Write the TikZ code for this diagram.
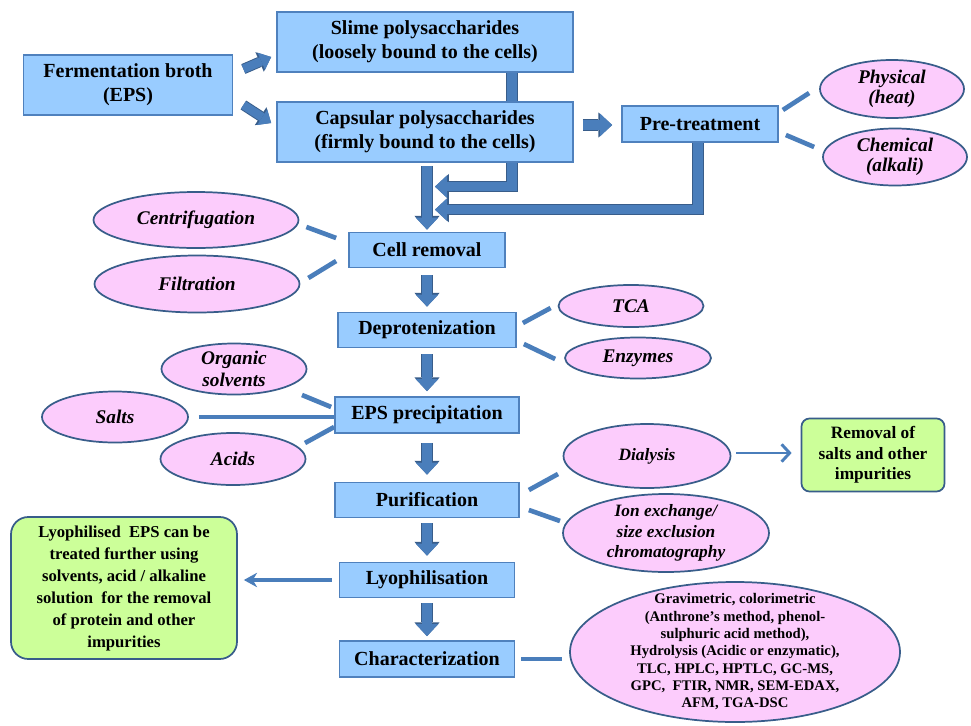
\documentclass[tikz,border=0pt]{standalone}
\usepackage{fontspec}
\setmainfont{Liberation Serif}
\usetikzlibrary{shapes.geometric,arrows.meta,calc,backgrounds}
\definecolor{boxfill}{RGB}{153,204,255}
\definecolor{boxdraw}{RGB}{79,129,189}
\definecolor{arrowc}{RGB}{74,126,187}
\definecolor{arrowdark}{RGB}{56,93,138}
\definecolor{ellfill}{RGB}{252,204,252}
\definecolor{elldraw}{RGB}{56,93,138}
\definecolor{greenfill}{RGB}{204,255,153}
\begin{document}
\begin{tikzpicture}[x=0.75pt,y=-0.75pt,
  bx/.style 2 args={minimum width=#1*0.75pt, minimum height=#2*0.75pt},
  box/.style={draw=boxdraw, line width=1.3pt, fill=boxfill, inner sep=0pt, align=center,
    font=\fontsize{15}{18}\selectfont\bfseries},
  ell/.style={ellipse, draw=elldraw, line width=1.3pt, fill=ellfill, inner sep=0pt},
  etxt/.style={align=center, inner sep=0pt, font=\fontsize{14.5}{16}\selectfont\bfseries\itshape},
  gbox/.style={draw=elldraw, line width=1.3pt, fill=greenfill, inner sep=0pt, align=center},
  blk/.style={draw=arrowc, line width=7pt, line join=miter,
    -{Triangle[length=9pt,width=17pt,line width=0pt]},
    preaction={draw=arrowdark, line width=8.4pt, line join=miter,
      -{Triangle[length=10.4pt,width=19pt,line width=0pt]}}},
  blks/.style={draw=arrowc, line width=6.5pt, -{Triangle[length=8pt,width=14pt,line width=0pt]},
    preaction={draw=arrowdark, line width=7.9pt,
      -{Triangle[length=9.4pt,width=16pt,line width=0pt]}}},
  ln/.style={draw=arrowc, line width=3.5pt},
  thinarr/.style={draw=arrowc, line width=2.2pt, -{Straight Barb[length=6pt,width=13pt]}},
  lyoarr/.style={draw=arrowc, line width=2.5pt, -{Stealth[length=10pt,width=11pt,line width=0pt]}}
]
\useasboundingbox (0,0) rectangle (971,725);

% top row
\node[box, bx={209}{60}] (ferm) at (128,85) {Fermentation broth\\(EPS)};
\node[box, bx={296}{60}] (slime) at (425,42) {Slime polysaccharides\\(loosely bound to the cells)};
\node[box, bx={296}{60}] (caps) at (425,132) {Capsular polysaccharides\\(firmly bound to the cells)};
\node[box, bx={156}{36}] (pre) at (700,124) {Pre-treatment};
\node[ell, bx={144}{58}] (phys) at (892,89) {};
\node[etxt, font=\fontsize{14.5}{15}\selectfont\bfseries\itshape] (physT) at (phys) {Physical\\(heat)};
\node[ell, bx={144}{57}] (chem) at (895,157) {};
\node[etxt, font=\fontsize{14.5}{15}\selectfont\bfseries\itshape] (chemT) at (chem) {Chemical\\(alkali)};

% central column
\node[box, bx={156}{35}] (cell) at (427,250) {Cell removal};
\node[box, bx={178}{35}] (deprot) at (427,330) {Deprotenization};
\node[box, bx={184}{36}] (prec) at (427,415) {EPS precipitation};
\node[box, bx={184}{35}] (purif) at (427,500) {Purification};
\node[box, bx={175}{35}] (lyo) at (427,580) {Lyophilisation};
\node[box, bx={175}{36}] (char) at (427,659) {Characterization};

% side ellipses
\node[ell, bx={205}{56}] (centrif) at (196,220) {};
\node[etxt] (centrifT) at (centrif) {Centrifugation};
\node[ell, bx={205}{57}] (filtr) at (197,284) {};
\node[etxt] (filtrT) at (filtr) {Filtration};
\node[ell, bx={145}{42}] (tca) at (631,306) {};
\node[etxt] (tcaT) at (tca) {TCA};
\node[ell, bx={146}{41}] (enz) at (638,358) {};
\node[etxt] (enzT) at (enz) {Enzymes};
\node[ell, bx={145}{51}] (org) at (234,369) {};
\node[etxt, font=\fontsize{14.5}{17}\selectfont\bfseries\itshape] (orgT) at (org) {Organic\\solvents};
\node[ell, bx={146}{51}] (salts) at (115,417) {};
\node[etxt] (saltsT) at (salts) {Salts};
\node[ell, bx={145}{52}] (acids) at (233,459) {};
\node[etxt] (acidsT) at (acids) {Acids};
\node[ell, bx={167}{64}] (dial) at (647,456) {};
\node[etxt, font=\fontsize{13}{15.5}\selectfont\bfseries\itshape] (dialT) at (dial) {Dialysis};
\node[ell, bx={206}{78}] (ion) at (666,533) {};
\node[etxt, font=\fontsize{13}{15.5}\selectfont\bfseries\itshape] (ionT) at (ion) {Ion exchange/\\size exclusion\\chromatography};
\node[ell, bx={330}{140}] (big) at (735,652) {};
\node[align=center, inner sep=0pt, font=\fontsize{11}{13}\selectfont\bfseries] (bigT) at (big)
  {Gravimetric, colorimetric\\(Anthrone’s method, phenol-\\sulphuric acid method),\\Hydrolysis (Acidic or enzymatic),\\TLC, HPLC, HPTLC, GC-MS,\\GPC,\ \ FTIR, NMR, SEM-EDAX,\\AFM, TGA-DSC};

% green boxes
\node[gbox, rounded corners=6pt, bx={143}{73}, font=\fontsize{13}{15.5}\selectfont\bfseries] (removal) at (873,455)
  {Removal of\\salts and other\\impurities};
\node[gbox, rounded corners=13pt, bx={226}{142}, font=\fontsize{12.5}{16.5}\selectfont\bfseries] (lyog) at (124,588)
  {Lyophilised\ \ EPS can be\\treated further using\\solvents, acid / alkaline\\solution\ \ for the removal\\of protein and other\\impurities};

\begin{pgfonlayer}{background}
\fill[white] (0,0) rectangle (971,725);
% block arrows
\draw[blks] ($(ferm.east)+(10,-16)$) -- ($(slime.west)+(-5,15)$);
\draw[blks] ($(ferm.east)+(10,20)$) -- ($(caps.west)+(-5,-9)$);
\draw[blk] ($(caps.east)+(9,-7)$) -- ($(pre.west)+(-9,1)$);
\draw[blk] ($(caps.south -| cell.north)+(0,3)$) -- ($(cell.north)+(0,-2)$);
\draw[blk] ($(slime.south)+(87,-2)$) |- ($(cell.north)+(8,-45)$);
\draw[blk] ($(pre.south)+(-2,-2)$) |- ($(cell.north)+(8,-22)$);
\draw[blk] ($(cell.south)+(0,7)$) -- ($(deprot.north)+(0,-5)$);
\draw[blk] ($(deprot.south)+(0,6)$) -- ($(prec.north)+(0,-5)$);
\draw[blk] ($(prec.south)+(0,9)$) -- ($(purif.north)+(0,-7)$);
\draw[blk] ($(purif.south)+(0,5)$) -- ($(lyo.north)+(0,-6)$);
\draw[blk] ($(lyo.south)+(0,5)$) -- ($(char.north)+(0,-4)$);
% plain connectors
\draw[ln] ($(pre.east)+(4,-14)$) -- ($(phys.west)+(-10,4)$);
\draw[ln] ($(pre.east)+(7,11)$) -- ($(chem.west)+(-8,-10)$);
\draw[ln] ($(centrif.east)+(7,7)$) -- ($(cell.west)+(-12,-12)$);
\draw[ln] ($(filtr.east)+(8,-6)$) -- ($(cell.west)+(-12,11)$);
\draw[ln] ($(deprot.east)+(6,-7)$) -- ($(tca.west)+(-7,2)$);
\draw[ln] ($(deprot.east)+(7,14)$) -- ($(enz.west)+(-9,1)$);
\draw[ln] ($(org.center)+(68,26)$) -- ($(prec.west)+(-3,-8)$);
\draw[ln] ($(salts.east)+(10,0)$) -- (salts.east -| prec.west);
\draw[ln] ($(acids.center)+(72,-16)$) -- ($(prec.west)+(0,12)$);
\draw[ln] ($(purif.east)+(9,-10)$) -- ($(dial.center)+(-89,18)$);
\draw[ln] ($(purif.east)+(9,10)$) -- ($(ion.center)+(-106,-12)$);
\draw[ln] ($(char.east)+(6,0)$) -- ($(char.east -| big.west)+(-7,0)$);
% thin arrows
\draw[thinarr] ($(dial.east)+(5,-3)$) -- ($(removal.west)+(-9,-2)$);
\draw[lyoarr] ($(lyo.west)+(-7,0)$) -- ($(lyo.west -| lyog.east)+(6,0)$);
\end{pgfonlayer}
\end{tikzpicture}
\end{document}
